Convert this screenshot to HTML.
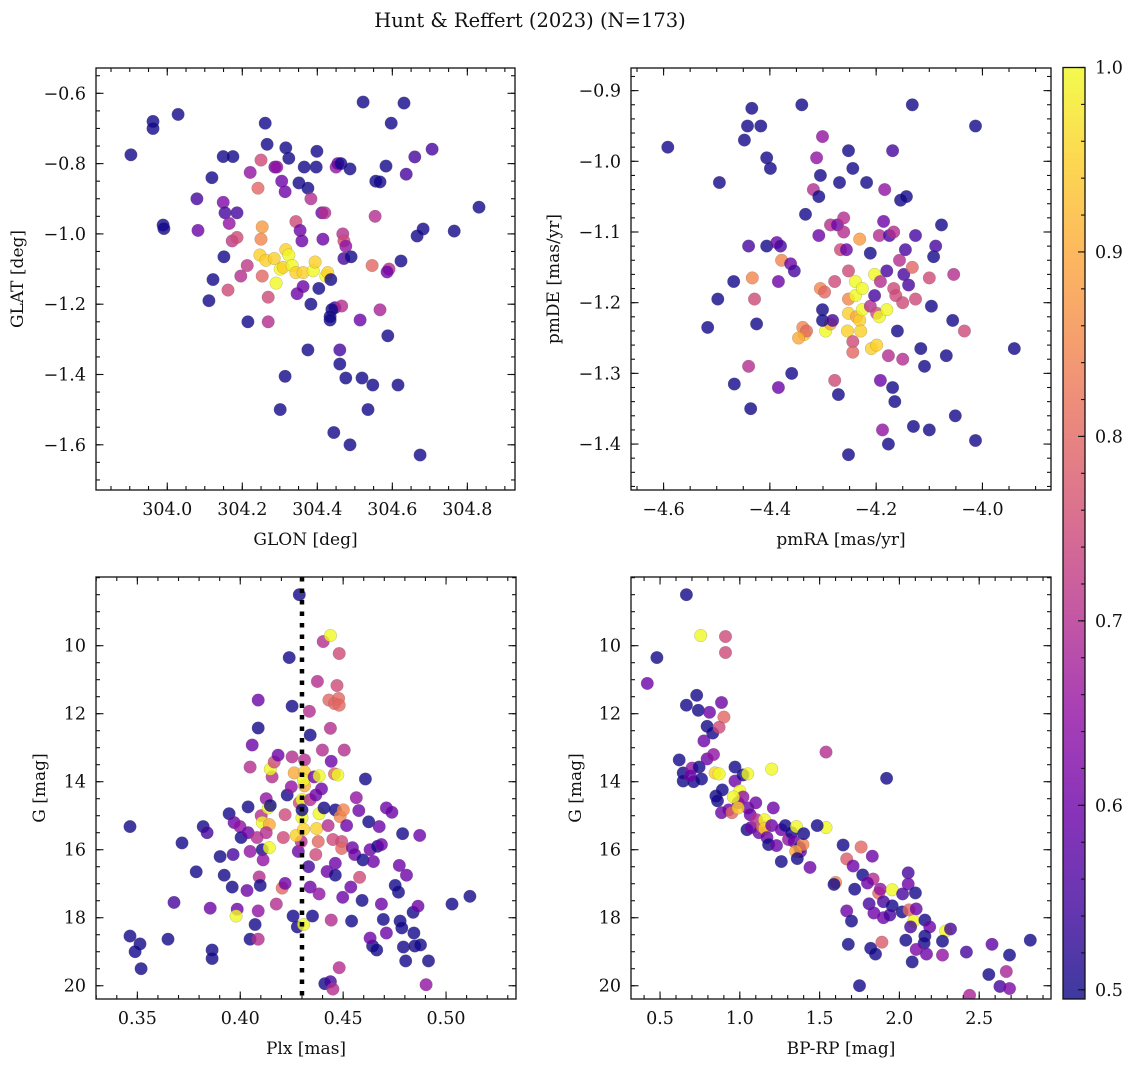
<!DOCTYPE html>
<html><head><meta charset="utf-8">
<style>
html,body{margin:0;padding:0;background:#fff;}
svg{display:block;}
text{font-family:"DejaVu Serif","Liberation Serif",serif;fill:#111;}
</style></head>
<body>
<svg id="fig" width="1136" height="1067" viewBox="0 0 1136 1067" xmlns="http://www.w3.org/2000/svg">
<rect width="1136" height="1067" fill="#fff"/>
<text x="530" y="27" font-size="19.5" text-anchor="middle">Hunt &amp; Reffert (2023) (N=173)</text>
</svg>
<script>
// ---------- Panel 1: GLON vs GLAT ----------
const glonX=[303.903,303.962,303.962,304.029,303.989,303.991,304.079,304.082,304.119,304.111,304.122,304.149,304.175,304.149,304.154,304.165,304.186,304.173,304.186,304.151,304.162,304.196,304.213,304.221,304.242,304.250,304.261,304.266,304.215,304.269,304.253,304.250,304.247,304.263,304.285,304.253,304.269,304.287,304.292,304.305,304.314,304.324,304.316,304.301,304.290,304.309,304.316,304.324,304.343,304.354,304.359,304.333,304.343,304.362,304.346,304.362,304.351,304.365,304.375,304.375,304.314,304.301,304.389,304.394,304.423,304.428,304.383,304.412,304.420,304.399,304.397,304.415,304.404,304.383,304.436,304.447,304.465,304.439,304.434,304.434,304.450,304.455,304.463,304.444,304.487,304.476,304.460,304.460,304.468,304.471,304.476,304.471,304.487,304.490,304.522,304.554,304.514,304.546,304.556,304.519,304.548,304.535,304.597,304.631,304.660,304.706,304.583,304.637,304.567,304.666,304.682,304.765,304.831,304.623,304.591,304.586,304.567,304.588,304.615,304.674];
const glatY=[-0.775,-0.68,-0.70,-0.66,-0.975,-0.985,-0.90,-0.99,-0.84,-1.19,-1.13,-0.78,-0.78,-0.91,-0.94,-0.97,-0.94,-1.02,-1.01,-1.065,-1.16,-1.12,-1.09,-0.825,-0.87,-0.79,-0.685,-0.745,-1.25,-1.25,-0.98,-1.015,-1.06,-1.075,-1.07,-1.12,-1.18,-0.81,-0.81,-0.85,-0.88,-0.785,-0.755,-1.10,-1.14,-1.095,-1.045,-1.06,-0.965,-0.99,-1.02,-1.09,-1.11,-1.11,-1.17,-1.15,-0.855,-0.81,-0.87,-1.33,-1.405,-1.50,-1.105,-1.08,-1.12,-1.11,-0.90,-0.94,-0.94,-0.765,-0.81,-1.015,-1.155,-1.20,-1.13,-1.21,-1.205,-1.215,-1.235,-1.245,-0.81,-0.80,-0.80,-1.565,-1.60,-1.41,-1.33,-1.37,-1.00,-1.02,-1.035,-1.07,-0.815,-1.065,-0.625,-0.95,-1.245,-1.09,-0.85,-1.41,-1.43,-1.50,-0.685,-0.628,-0.781,-0.759,-0.807,-0.830,-0.852,-1.006,-0.986,-0.992,-0.924,-1.077,-1.10,-1.108,-1.216,-1.29,-1.43,-1.629];
const glatC=[0.5,0.5,0.5,0.5,0.5,0.5,0.55,0.6,0.5,0.5,0.5,0.5,0.5,0.62,0.55,0.65,0.55,0.72,0.75,0.5,0.75,0.7,0.72,0.65,0.8,0.75,0.5,0.5,0.5,0.7,0.88,0.85,0.95,0.95,0.95,0.8,0.75,0.6,0.65,0.6,0.6,0.5,0.5,1.0,1.0,0.95,0.95,1.0,0.75,0.6,0.6,1.0,0.95,0.95,0.6,0.6,0.5,0.5,0.5,0.5,0.5,0.5,1.0,0.95,1.0,0.95,0.7,0.6,0.7,0.5,0.5,0.6,0.5,0.5,0.5,0.55,0.7,0.5,0.5,0.5,0.65,0.6,0.5,0.5,0.5,0.5,0.55,0.5,0.7,0.75,0.65,0.55,0.5,0.5,0.5,0.7,0.6,0.8,0.5,0.5,0.5,0.5,0.5,0.5,0.55,0.55,0.5,0.55,0.5,0.5,0.5,0.5,0.5,0.5,0.7,0.6,0.68,0.5,0.5,0.5];

// ---------- Panel 2: pmRA vs pmDE ----------
const pmraX=[-4.592,-4.495,-4.498,-4.517,-4.434,-4.442,-4.448,-4.417,-4.468,-4.467,-4.436,-4.425,-4.406,-4.399,-4.406,-4.44,-4.44,-4.433,-4.429,-4.387,-4.380,-4.378,-4.384,-4.384,-4.361,-4.354,-4.359,-4.340,-4.338,-4.335,-4.331,-4.346,-4.333,-4.318,-4.312,-4.301,-4.305,-4.308,-4.308,-4.305,-4.297,-4.301,-4.295,-4.286,-4.301,-4.278,-4.282,-4.286,-4.273,-4.269,-4.278,-4.271,-4.267,-4.261,-4.261,-4.256,-4.252,-4.252,-4.254,-4.252,-4.244,-4.244,-4.252,-4.252,-4.244,-4.239,-4.239,-4.231,-4.237,-4.231,-4.229,-4.218,-4.226,-4.226,-4.211,-4.211,-4.209,-4.203,-4.203,-4.199,-4.194,-4.194,-4.192,-4.199,-4.192,-4.186,-4.184,-4.180,-4.188,-4.180,-4.175,-4.177,-4.177,-4.169,-4.169,-4.167,-4.167,-4.165,-4.163,-4.160,-4.154,-4.156,-4.150,-4.148,-4.150,-4.145,-4.143,-4.139,-4.132,-4.130,-4.132,-4.126,-4.126,-4.116,-4.109,-4.100,-4.096,-4.100,-4.092,-4.088,-4.077,-4.068,-4.056,-4.051,-4.054,-4.034,-4.013,-4.013,-3.940];
const pmdeY=[-0.98,-1.03,-1.195,-1.235,-0.925,-0.95,-0.97,-0.95,-1.17,-1.315,-1.35,-1.23,-0.995,-1.01,-1.12,-1.12,-1.29,-1.165,-1.195,-1.115,-1.12,-1.14,-1.32,-1.17,-1.145,-1.155,-1.30,-0.92,-1.235,-1.245,-1.24,-1.25,-1.075,-1.04,-0.995,-0.965,-1.02,-1.05,-1.105,-1.18,-1.185,-1.21,-1.24,-1.23,-1.225,-1.17,-1.225,-1.09,-1.09,-1.03,-1.31,-1.33,-1.125,-1.08,-1.10,-1.125,-1.155,-1.195,-1.24,-1.215,-1.255,-1.27,-1.415,-0.985,-1.01,-1.17,-1.19,-1.11,-1.22,-1.225,-1.24,-1.03,-1.21,-1.18,-1.13,-1.205,-1.265,-1.19,-1.16,-1.215,-1.105,-1.22,-1.17,-1.26,-1.31,-1.085,-1.04,-1.155,-1.38,-1.21,-1.105,-1.275,-1.40,-1.32,-0.985,-1.10,-1.18,-1.34,-1.19,-1.24,-1.055,-1.14,-1.20,-1.16,-1.28,-1.125,-1.05,-1.175,-0.92,-1.375,-1.15,-1.105,-1.195,-1.265,-1.29,-1.165,-1.205,-1.38,-1.135,-1.12,-1.09,-1.275,-1.225,-1.36,-1.16,-1.24,-0.95,-1.395,-1.265];
const pmdeC=[0.5,0.5,0.5,0.5,0.5,0.5,0.5,0.5,0.5,0.5,0.5,0.5,0.5,0.5,0.5,0.55,0.7,0.85,0.75,0.6,0.55,0.85,0.6,0.6,0.6,0.55,0.5,0.5,0.85,0.95,0.8,0.9,0.5,0.7,0.65,0.65,0.5,0.5,0.6,0.85,0.8,0.5,1.0,0.9,0.5,0.75,0.55,0.7,0.6,0.5,0.75,0.5,0.75,0.7,0.7,0.6,0.75,0.85,0.95,0.95,0.75,0.8,0.5,0.5,0.5,1.0,1.0,0.88,0.9,0.95,0.95,0.5,1.0,1.0,0.5,0.7,0.95,0.55,1.0,0.75,0.7,1.0,0.7,0.95,0.6,0.6,0.65,0.55,0.65,1.0,0.55,0.7,0.5,0.5,0.55,0.7,0.75,0.5,0.75,0.5,0.5,0.7,0.75,0.55,0.7,0.55,0.5,0.55,0.5,0.5,0.8,0.55,0.75,0.5,0.5,0.75,0.5,0.5,0.5,0.55,0.5,0.5,0.5,0.5,0.7,0.75,0.5,0.5,0.5];

// ---------- Panel 3: Plx vs G ----------
const plxX=[0.3464,0.3464,0.3513,0.3489,0.3518,0.3649,0.3678,0.3717,0.3786,0.3820,0.3839,0.3854,0.3863,0.3863,0.3902,0.3922,0.3946,0.3965,0.3961,0.3970,0.3985,0.3999,0.4004,0.4033,0.4038,0.4048,0.4048,0.4058,0.4038,0.4048,0.4072,0.4087,0.4087,0.4087,0.4082,0.4107,0.4111,0.4092,0.4097,0.4102,0.4107,0.4126,0.4136,0.4141,0.4126,0.4141,0.4146,0.4155,0.4146,0.4087,0.4165,0.4184,0.4175,0.4204,0.4218,0.4209,0.4218,0.4228,0.4238,0.4248,0.4257,0.4252,0.4252,0.4262,0.4282,0.4296,0.4287,0.4272,0.4277,0.3980,0.4287,0.4300,0.4300,0.4308,0.4300,0.4312,0.4312,0.4312,0.4308,0.4308,0.4332,0.4340,0.4340,0.4336,0.4340,0.4351,0.4379,0.4375,0.4383,0.4371,0.4367,0.4359,0.4367,0.4383,0.4383,0.4395,0.4399,0.4407,0.4427,0.4422,0.4431,0.4458,0.4438,0.4411,0.4438,0.4450,0.4442,0.4458,0.4474,0.4462,0.4450,0.4462,0.4462,0.4442,0.4403,0.4438,0.4481,0.4470,0.4478,0.4481,0.4485,0.4493,0.4493,0.4505,0.4501,0.4498,0.4481,0.4517,0.4537,0.4541,0.4545,0.4556,0.4564,0.4576,0.4580,0.4592,0.4596,0.4608,0.4624,0.4631,0.4647,0.4667,0.4675,0.4686,0.4686,0.4643,0.4631,0.4663,0.4695,0.4710,0.4737,0.4769,0.4773,0.4753,0.4789,0.4710,0.4777,0.4785,0.4793,0.4804,0.4808,0.4840,0.4844,0.4864,0.4848,0.4876,0.4903,0.4872,0.4915,0.5029,0.5116];
const plxG=[15.32,18.54,18.77,19.0,19.5,18.63,17.55,15.8,16.65,15.32,15.5,17.72,18.95,19.2,16.2,16.75,14.94,16.14,17.1,15.2,17.75,15.32,15.64,17.2,15.5,16.05,13.57,12.92,14.74,18.63,18.2,17.8,11.6,12.42,15.64,16.0,16.3,16.8,17.05,15.0,15.2,14.5,14.77,15.26,15.5,15.94,14.7,13.86,13.63,18.63,13.42,13.22,17.6,17.13,16.99,15.64,14.97,14.39,10.35,14.15,17.95,13.27,11.78,13.74,16.05,15.76,14.62,15.58,18.27,17.95,8.5,14.53,15.06,15.4,14.83,13.36,14.12,13.71,13.95,18.2,16.5,17.1,12.63,11.93,14.53,17.95,15.76,11.05,14.94,15.38,16.14,13.86,14.39,13.83,17.3,14.21,13.07,14.77,15.29,16.64,11.6,11.7,12.43,19.94,19.88,20.1,13.4,13.77,13.8,14.83,15.7,16.4,16.75,18.07,9.88,9.7,10.23,11.17,11.55,11.75,15.03,15.76,15.96,13.07,14.83,17.4,19.47,15.29,17.1,18.1,15.94,16.14,14.47,14.85,16.81,17.49,16.3,13.92,15.18,16.0,16.35,15.9,15.32,15.85,17.6,18.83,18.6,18.95,18.05,14.77,14.9,17.25,16.46,17.05,15.53,18.45,18.1,18.3,18.86,19.27,16.75,17.84,18.45,17.66,18.83,18.8,19.97,15.58,19.27,17.6,17.37];
const plxC=[0.5,0.5,0.5,0.5,0.5,0.5,0.55,0.5,0.5,0.5,0.55,0.6,0.5,0.5,0.5,0.5,0.5,0.55,0.5,0.6,0.6,0.65,0.5,0.6,0.6,0.65,0.7,0.6,0.5,0.5,0.5,0.65,0.6,0.5,0.7,0.5,0.65,0.7,0.5,0.7,1.0,0.65,1.0,0.9,0.7,1.0,0.5,0.7,1.0,0.7,0.75,0.6,0.7,0.8,0.6,0.75,0.75,0.5,0.5,0.65,0.5,0.7,0.5,0.9,0.6,0.7,0.75,0.95,0.5,1.0,0.5,1.0,1.0,0.95,0.5,0.7,0.9,0.95,1.0,1.0,0.55,0.6,0.5,0.7,0.7,0.5,0.8,0.7,1.0,0.95,0.75,0.6,0.6,1.0,0.65,0.6,0.7,0.5,0.7,0.6,0.8,0.8,0.7,0.5,0.55,0.7,0.6,0.8,1.0,0.5,0.75,0.6,0.5,0.7,0.7,1.0,0.75,0.75,0.8,0.8,0.85,0.75,0.8,0.7,0.85,0.6,0.7,0.6,0.6,0.5,0.6,0.6,0.65,0.6,0.75,0.5,0.5,0.5,0.5,0.6,0.6,0.5,0.6,0.6,0.6,0.5,0.6,0.5,0.5,0.6,0.6,0.5,0.6,0.5,0.5,0.6,0.5,0.5,0.5,0.5,0.6,0.5,0.5,0.6,0.5,0.5,0.65,0.6,0.5,0.5,0.5];

// ---------- Panel 4: BP-RP vs G ----------
const bprpX=[0.42,0.48,0.665,0.62,0.645,0.645,0.71,0.70,0.665,0.73,0.74,0.745,0.69,0.755,0.91,0.91,0.76,0.795,0.795,0.775,0.81,0.83,0.885,0.90,0.87,0.835,0.85,0.86,0.845,0.87,0.89,0.885,0.93,0.95,0.97,1.0,0.99,0.97,1.02,1.02,1.05,1.05,1.065,0.96,0.99,1.045,1.07,1.1,1.105,1.12,1.14,1.155,1.155,1.17,1.18,1.2,1.2,1.21,1.23,1.26,1.26,1.285,1.305,1.325,1.34,1.355,1.375,1.38,1.395,1.4,1.35,1.36,1.44,1.54,1.54,1.485,1.60,1.59,1.92,1.647,1.76,1.83,1.67,1.71,1.77,1.835,1.80,1.72,1.87,1.88,2.055,2.055,1.955,2.02,2.10,1.81,1.90,1.955,2.017,2.06,2.105,1.67,1.70,1.84,1.90,1.94,2.09,2.16,2.19,2.07,2.29,2.32,1.68,1.82,1.85,1.89,2.04,2.16,2.155,2.105,2.17,2.08,2.27,2.27,2.42,2.58,2.69,2.82,2.56,2.67,2.63,2.69,2.44,1.75];
const bprpG=[11.11,10.35,8.5,13.36,13.74,13.98,14.0,13.6,11.75,11.46,11.9,13.57,13.83,9.7,9.73,10.2,13.92,13.33,12.37,12.8,11.96,12.57,11.67,12.1,12.4,13.2,14.42,14.56,13.74,13.77,14.24,14.91,14.83,14.91,13.98,14.27,14.62,13.57,13.8,14.45,13.77,14.77,14.97,14.45,14.77,15.41,15.35,14.62,15.12,15.5,15.32,15.12,15.38,15.64,15.85,15.29,13.63,14.77,15.88,16.35,15.41,15.29,15.7,15.5,15.76,15.32,15.94,16.05,15.85,15.53,16.05,16.26,16.52,13.13,15.35,15.29,16.96,17.02,13.9,15.86,15.92,16.19,16.27,16.48,16.74,16.86,16.98,17.16,17.28,17.16,16.68,17.01,17.18,17.30,17.27,17.59,17.53,17.65,17.83,17.77,17.74,17.80,18.10,17.86,18.0,17.92,18.10,18.07,18.27,18.27,18.39,18.33,18.78,18.90,19.07,18.72,18.66,18.54,18.75,18.93,19.07,19.3,18.69,19.1,19.01,18.78,19.1,18.66,19.67,19.58,20.02,20.08,20.28,20.0];
const bprpC=[0.6,0.5,0.5,0.5,0.5,0.5,0.5,0.65,0.5,0.5,0.5,0.5,0.6,1.0,0.75,0.75,0.5,0.6,0.5,0.6,0.6,0.5,0.6,0.8,0.75,0.65,0.5,0.5,0.95,1.0,0.5,0.6,0.6,0.8,0.6,1.0,0.6,0.5,0.5,0.65,1.0,0.6,0.6,1.0,0.95,0.5,0.6,0.6,0.7,0.6,0.8,1.0,0.95,0.6,0.5,0.6,1.0,0.6,0.6,0.5,0.6,0.5,0.65,0.5,0.6,1.0,0.5,0.6,0.85,0.5,0.9,0.5,0.6,0.7,1.0,0.5,0.85,0.5,0.5,0.5,0.8,0.6,0.78,0.6,0.5,0.7,0.6,0.5,0.8,0.65,0.55,0.6,1.0,0.55,0.5,0.55,0.55,0.5,0.5,0.8,0.6,0.6,0.5,0.6,0.6,0.55,1.0,0.5,0.6,0.55,1.0,0.55,0.5,0.5,0.5,0.78,0.5,0.5,0.5,0.62,0.6,0.5,0.5,0.65,0.55,0.58,0.5,0.5,0.5,0.68,0.55,0.62,0.68,0.5];

// colour scale limits
const cmin=0.495, cmax=1.0;
const cbarTicks=[0.5,0.6,0.7,0.8,0.9,1.0];

const NS="http://www.w3.org/2000/svg";
const svg=document.getElementById('fig');
function mk(tag,attrs,parent){const e=document.createElementNS(NS,tag);for(const k in attrs)e.setAttribute(k,attrs[k]);(parent||svg).appendChild(e);return e;}

const plasmaStops=["#0d0887","#41049d","#6a00a8","#8f0da4","#b12a90","#cc4778","#e16462","#f2844b","#fca636","#fcce25","#f0f921"];
function hex(h){return [parseInt(h.substr(1,2),16),parseInt(h.substr(3,2),16),parseInt(h.substr(5,2),16)];}
function plasma(t){t=Math.max(0,Math.min(1,t));const s=t*10;const i=Math.min(9,Math.floor(s));const f=s-i;const a=hex(plasmaStops[i]),b=hex(plasmaStops[i+1]);return 'rgb('+a.map((v,k)=>Math.round(v+(b[k]-v)*f)).join(',')+')';}
function cnorm(v){return (v-cmin)/(cmax-cmin);}

function fmt(v,d){let s=v.toFixed(d);if(v<0)s='\u2212'+s.substring(1);return s;}

const TICKFS=17.5, LABFS=17;

function panel(cfg){
  const g=mk('g',{});
  
  
  const L=cfg.left,R=cfg.right,T=cfg.top,B=cfg.bottom;
  const sx=v=>L+(v-cfg.xlim[0])/(cfg.xlim[1]-cfg.xlim[0])*(R-L);
  const sy=v=>B-(v-cfg.ylim[0])/(cfg.ylim[1]-cfg.ylim[0])*(B-T);
  const clipId='clip-'+cfg.name;
  const cp=mk('clipPath',{id:clipId},g);
  mk('rect',{x:L,y:T,width:R-L,height:B-T},cp);
  const pts=mk('g',{'clip-path':'url(#'+clipId+')'},g);
  
  
  for(let i=0;i<cfg.xs.length;i++){
    const c=mk('circle',{cx:sx(cfg.xs[i]).toFixed(1),cy:sy(cfg.ys[i]).toFixed(1),r:6.3,fill:plasma(cnorm(cfg.cs[i])),'fill-opacity':0.8,stroke:'#666','stroke-width':0.35,'stroke-opacity':0.6},pts);
    
    
  }
  if(cfg.vline!==undefined){
    const ln=mk('line',{x1:sx(cfg.vline),x2:sx(cfg.vline),y1:T,y2:B,stroke:'#000','stroke-width':4.5,'stroke-dasharray':'4.5 7'},pts);
    
    
  }
  const tk=mk('g',{stroke:'#111','stroke-width':1.1},g);
  
  
  const eps=1e-9;
  function range(a,b,step){const out=[];const s=Math.ceil(Math.min(a,b)/step-eps);const e=Math.floor(Math.max(a,b)/step+eps);for(let k=s;k<=e;k++)out.push(k*step);return out;}
  range(cfg.xlim[0],cfg.xlim[1],cfg.xminor).forEach(v=>{const x=sx(v);mk('line',{x1:x,x2:x,y1:B,y2:B-4},tk);mk('line',{x1:x,x2:x,y1:T,y2:T+4},tk);});
  range(cfg.ylim[0],cfg.ylim[1],cfg.yminor).forEach(v=>{const y=sy(v);mk('line',{x1:L,x2:L+4,y1:y,y2:y},tk);mk('line',{x1:R,x2:R-4,y1:y,y2:y},tk);});
  cfg.xticks.forEach(v=>{const x=sx(v);mk('line',{x1:x,x2:x,y1:B,y2:B-7.5},tk);mk('line',{x1:x,x2:x,y1:T,y2:T+7.5},tk);
    const t=mk('text',{x:x,y:B+25,'font-size':TICKFS,'text-anchor':'middle'},g);t.textContent=fmt(v,cfg.xdec);
    });
  cfg.yticks.forEach(v=>{const y=sy(v);mk('line',{x1:L,x2:L+7.5,y1:y,y2:y},tk);mk('line',{x1:R,x2:R-7.5,y1:y,y2:y},tk);
    const t=mk('text',{x:L-10,y:y+6,'font-size':TICKFS,'text-anchor':'end'},g);t.textContent=fmt(v,cfg.ydec);
    });
  const fr=mk('rect',{x:L,y:T,width:R-L,height:B-T,fill:'none',stroke:'#111','stroke-width':1.3},g);
  
  
  const xl=mk('text',{x:(L+R)/2,y:B+55,'font-size':LABFS,'text-anchor':'middle'},g);xl.textContent=cfg.xlabel;
  
  const yl=mk('text',{x:0,y:0,'font-size':LABFS,'text-anchor':'middle',transform:'translate('+cfg.ylabelX+','+((T+B)/2)+') rotate(-90)'},g);yl.textContent=cfg.ylabel;
  
}

panel({name:'glon-glat-panel',left:96,right:515,top:68,bottom:490,xlim:[303.81,304.927],ylim:[-1.7286,-0.528],
  xs:glonX,ys:glatY,cs:glatC,xticks:[304.0,304.2,304.4,304.6,304.8],xminor:0.05,xdec:1,
  yticks:[-0.6,-0.8,-1.0,-1.2,-1.4,-1.6],yminor:0.05,ydec:1,xlabel:'GLON [deg]',ylabel:'GLAT [deg]',ylabelX:23});
panel({name:'pm-panel',left:631,right:1051,top:68,bottom:490,xlim:[-4.6613,-3.871],ylim:[-1.465,-0.868],
  xs:pmraX,ys:pmdeY,cs:pmdeC,xticks:[-4.6,-4.4,-4.2,-4.0],xminor:0.05,xdec:1,
  yticks:[-0.9,-1.0,-1.1,-1.2,-1.3,-1.4],yminor:0.02,ydec:1,xlabel:'pmRA [mas/yr]',ylabel:'pmDE [mas/yr]',ylabelX:559});
panel({name:'plx-g-panel',left:96,right:516,top:577,bottom:999,xlim:[0.3299,0.534],ylim:[20.39,7.98],
  xs:plxX,ys:plxG,cs:plxC,xticks:[0.35,0.40,0.45,0.50],xminor:0.01,xdec:2,
  yticks:[10,12,14,16,18,20],yminor:0.5,ydec:0,xlabel:'Plx [mas]',ylabel:'G [mag]',ylabelX:45,vline:0.43});
panel({name:'cmd-panel',left:631,right:1051,top:577,bottom:999,xlim:[0.318,2.95],ylim:[20.39,7.98],
  xs:bprpX,ys:bprpG,cs:bprpC,xticks:[0.5,1.0,1.5,2.0,2.5],xminor:0.1,xdec:1,
  yticks:[10,12,14,16,18,20],yminor:0.5,ydec:0,xlabel:'BP-RP [mag]',ylabel:'G [mag]',ylabelX:581});

// colorbar
(function(){
  const L=1063,R=1085,T=67.5,B=999;
  const cy=v=>B-(v-cmin)/(cmax-cmin)*(B-T);
  const cb=mk('g',{});
  
  
  const defs=mk('defs',{},cb);
  const lg=mk('linearGradient',{id:'plasmaGrad',x1:0,y1:1,x2:0,y2:0},defs);
  for(let i=0;i<=20;i++){const t=i/20;mk('stop',{offset:t,'stop-color':plasma(t),'stop-opacity':0.8},lg);}
  mk('rect',{x:L,y:T,width:R-L,height:B-T,fill:'url(#plasmaGrad)'},cb);
  const tk=mk('g',{stroke:'#111','stroke-width':1.1},cb);
  for(let v=0.5;v<=1.0001;v+=0.02){const y=cy(v);mk('line',{x1:R,x2:R-4,y1:y,y2:y},tk);}
  cbarTicks.forEach(v=>{const y=cy(v);mk('line',{x1:R,x2:R-7,y1:y,y2:y},tk);
    const t=mk('text',{x:R+10,y:y+6,'font-size':TICKFS},cb);t.textContent=v.toFixed(1);
    });
  mk('rect',{x:L,y:T,width:R-L,height:B-T,fill:'none',stroke:'#111','stroke-width':1.3},cb);
})();
</script>
</body></html>
